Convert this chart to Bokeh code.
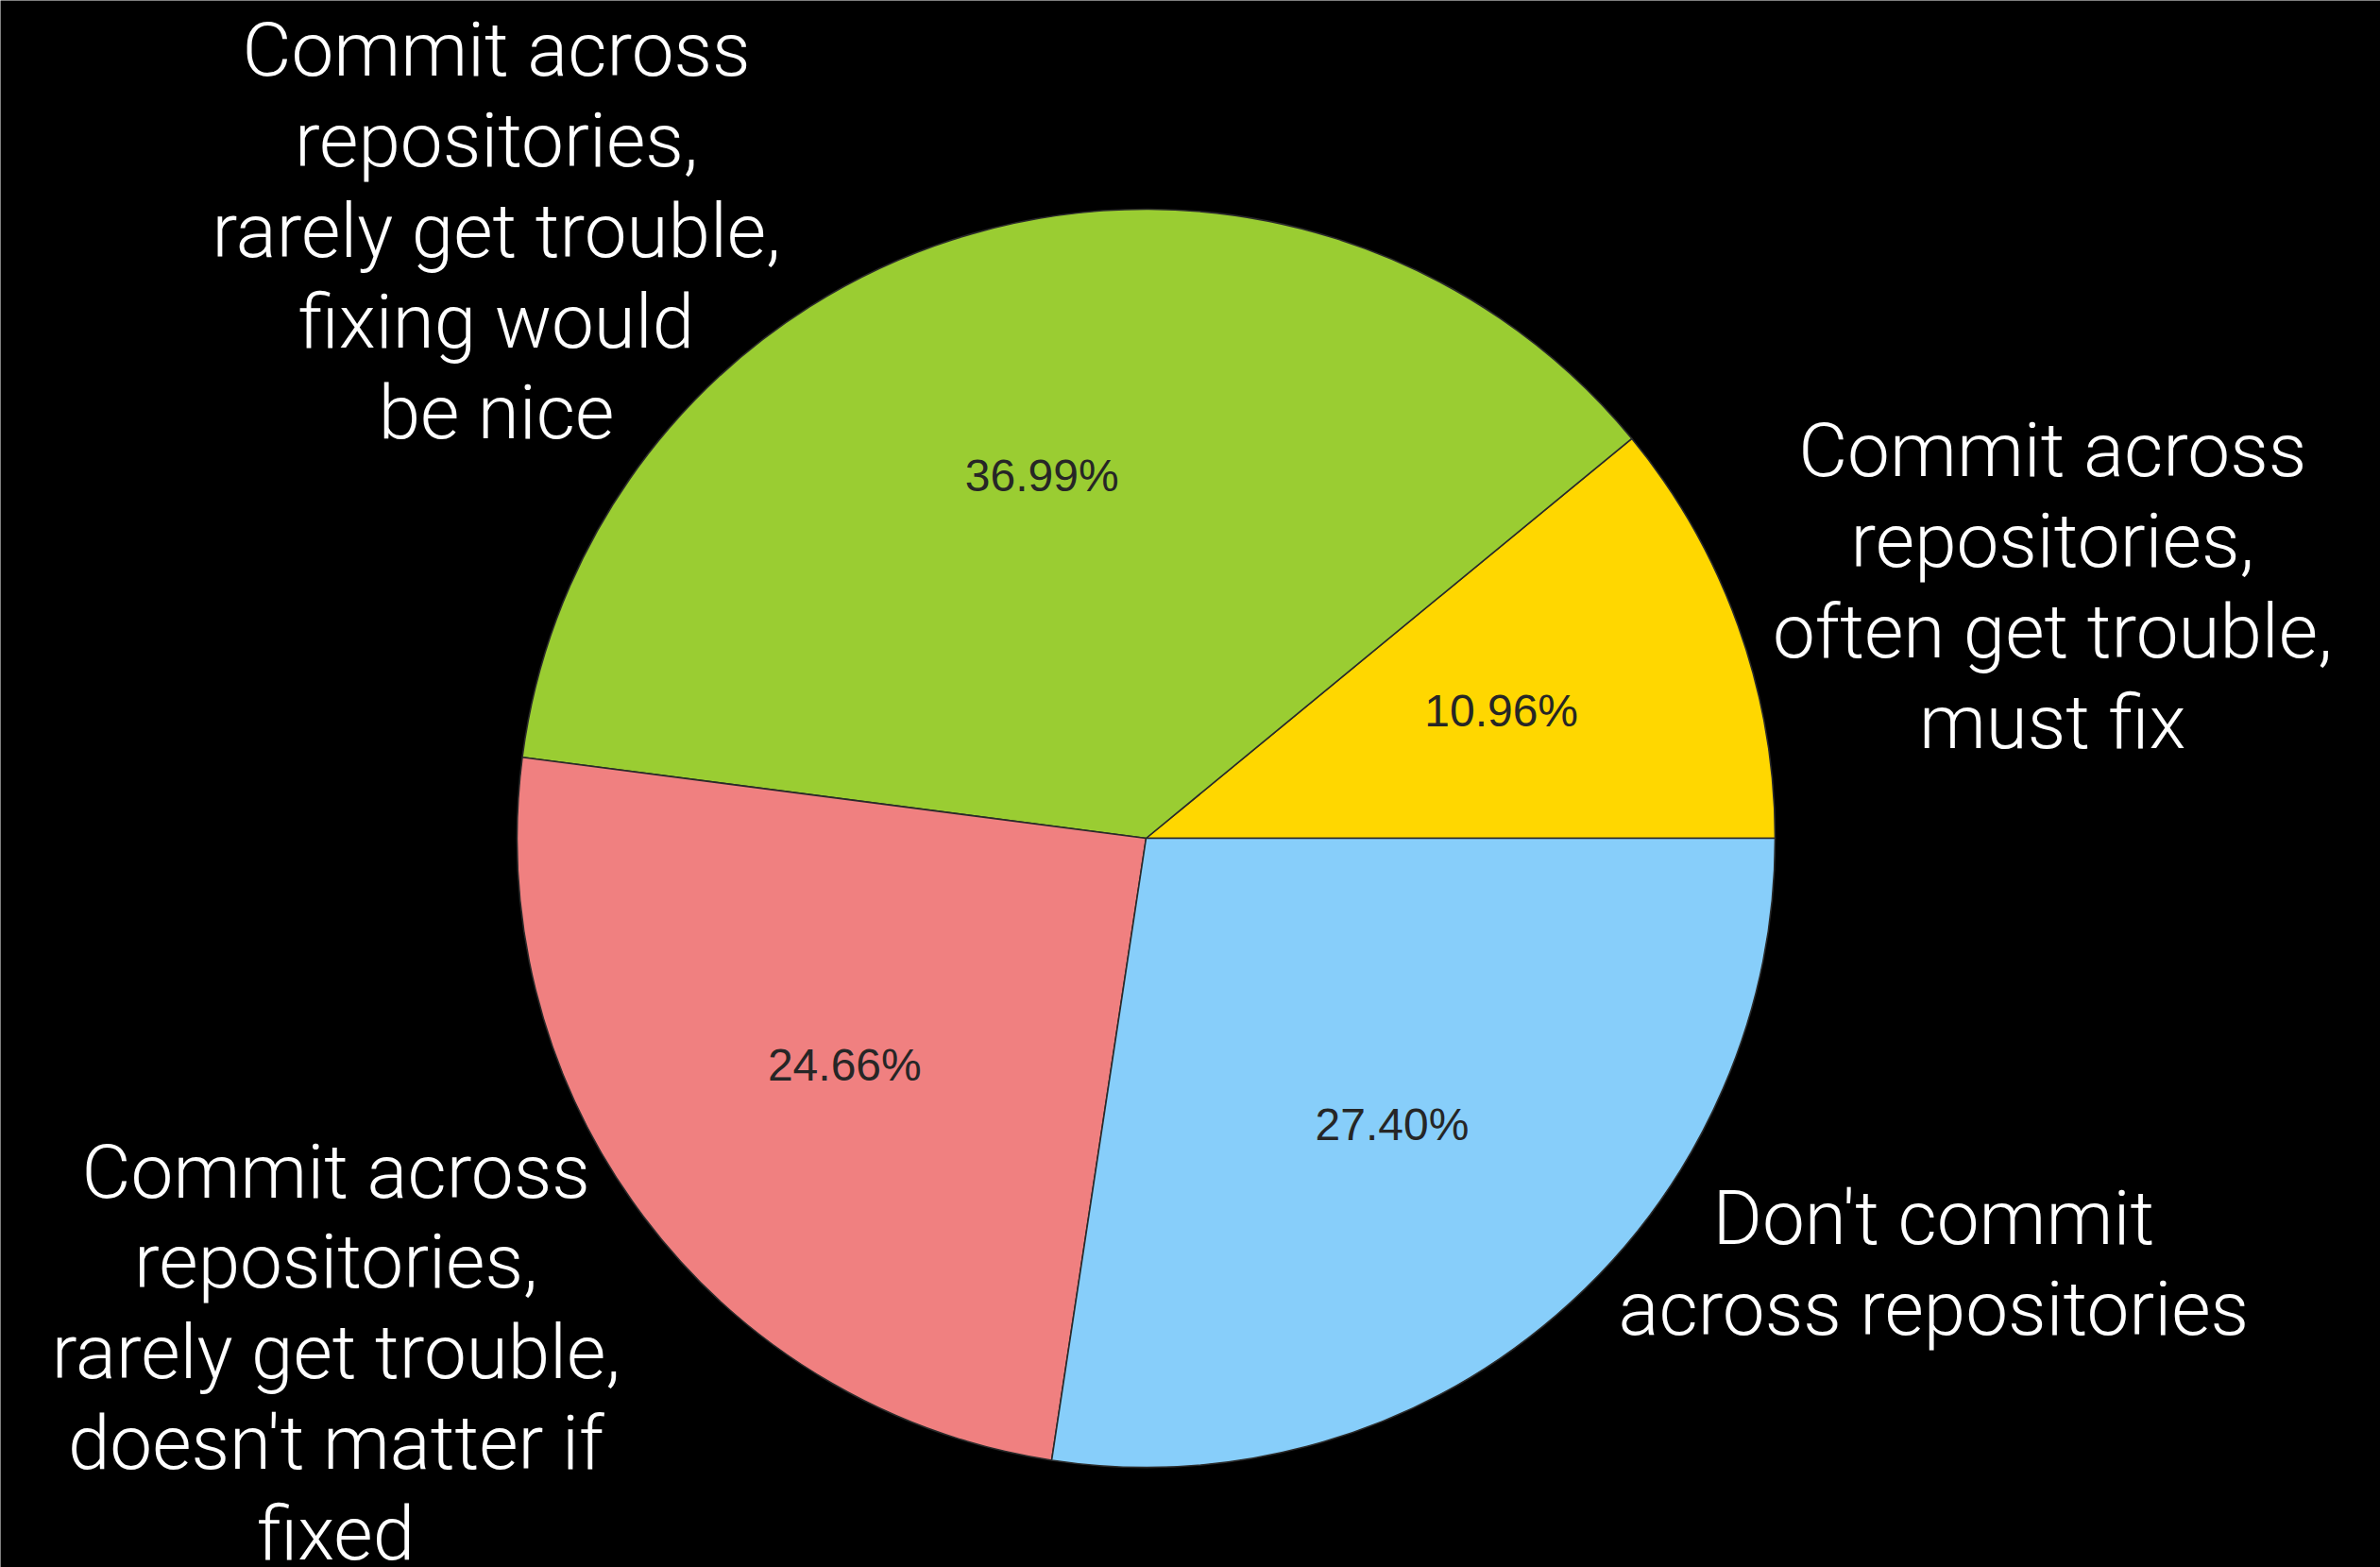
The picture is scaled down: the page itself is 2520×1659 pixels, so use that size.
import numpy as np
from bokeh.plotting import figure
from bokeh.models import ColumnDataSource, Range1d
from bokeh.core.properties import value
from bokeh.embed import file_html
from bokeh.resources import INLINE

# ---- data ----
categories = [
    "Commit across\nrepositories,\noften get trouble,\nmust fix",
    "Commit across\nrepositories,\nrarely get trouble,\nfixing would\nbe nice",
    "Commit across\nrepositories,\nrarely get trouble,\ndoesn't matter if\nfixed",
    "Don't commit\nacross repositories",
]
shares = [10.96, 36.99, 24.66, 27.40]
colors = ["#FFD700", "#9ACD32", "#F08080", "#87CEFA"]

# ---- layout (pie units, radius = 1) ----
W, H = 2520, 1659
R_PX = 666.0
CX, CY = 1213.0, 887.0
label_pos = [(1.441, 0.40), (-1.033, 0.965), (-1.288, -0.818), (1.252, -0.676)]
pct_distance = 0.6

vals = np.array(shares, dtype=float)
frac = vals / vals.sum()
ends = np.cumsum(frac) * 2 * np.pi
starts = np.concatenate([[0.0], ends[:-1]])
mids = (starts + ends) / 2

src = ColumnDataSource(dict(
    start=starts, end=ends, color=colors,
    px=pct_distance * np.cos(mids), py=pct_distance * np.sin(mids),
    pct=["%.2f%%" % v for v in shares],
))
lab = ColumnDataSource(dict(
    x=[p[0] for p in label_pos], y=[p[1] for p in label_pos], text=categories,
))

p = figure(width=W, height=H, output_backend="svg", toolbar_location=None,
           x_range=Range1d(-CX / R_PX, (W - CX) / R_PX),
           y_range=Range1d(-(H - CY) / R_PX, CY / R_PX),
           min_border=0, background_fill_color="black", border_fill_color="black")
p.axis.visible = False
p.grid.visible = False
p.outline_line_color = None

p.wedge(x=0, y=0, radius=1.0, start_angle="start", end_angle="end",
        fill_color="color", line_color="#2a2a2a", line_width=1.6, source=src)
p.text(x="px", y="py", text="pct", source=src, text_align="center",
       text_baseline="middle", text_font=value("Liberation Sans"),
       text_font_size="48px", text_color="#262626")
p.text(x="x", y="y", text="text", source=lab, text_align="center",
       text_baseline="middle", text_font=value("Roboto Light, Roboto"),
       text_font_size="80px", text_color="white", text_line_height=1.02)

open("out.html", "w").write(file_html(p, INLINE))
